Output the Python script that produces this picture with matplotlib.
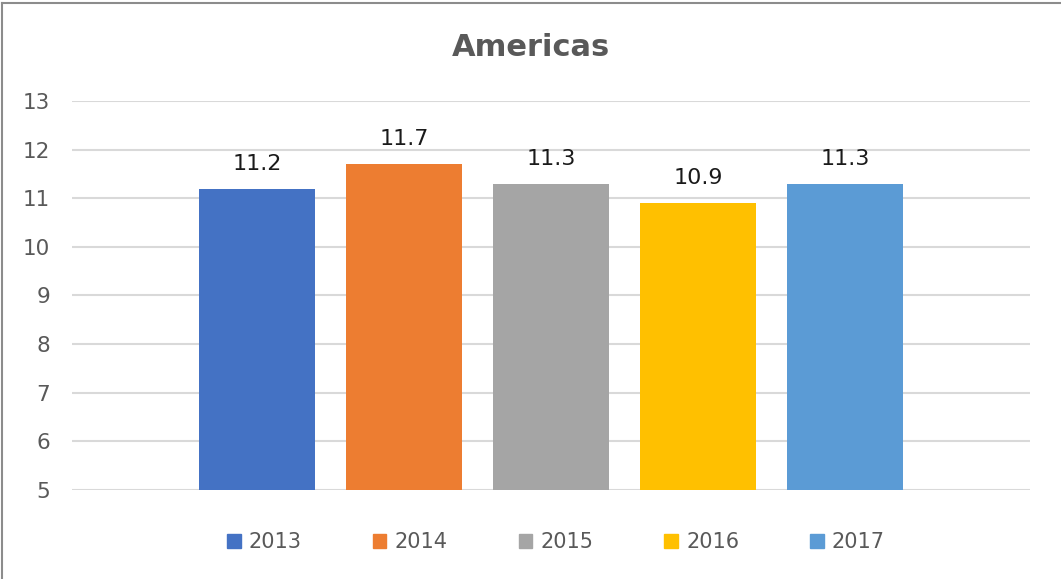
import matplotlib.pyplot as plt
import matplotlib.patches as mpatches
import matplotlib.lines as mlines
import numpy as np

years = ['2013', '2014', '2015', '2016', '2017']
values = [11.2, 11.7, 11.3, 10.9, 11.3]
colors = ['#4472C4', '#ED7D31', '#A5A5A5', '#FFC000', '#5B9BD5']

plt.rcParams['font.family'] = ['DejaVu Sans']

fig = plt.figure(figsize=(10.61, 5.79), dpi=100)
ax = fig.add_axes([0.068, 0.1537, 0.9028, 0.6719])

x = np.arange(len(years))
bars = ax.bar(x, values, width=0.79, color=colors, zorder=3)
for xi, v in zip(x, values):
    ax.text(xi, v + 0.39, f'{v}', ha='center', va='baseline', fontsize=16, color='#1a1a1a')

ax.set_ylim(5, 13)
ax.set_xlim(-1.26, 5.26)
ax.set_yticks(range(5, 14))
ax.set_xticks([])
ax.grid(axis='y', color='#d9d9d9', linewidth=1.5, zorder=0)
for s in ax.spines.values():
    s.set_visible(False)
ax.tick_params(axis='y', length=0, labelsize=15.5, labelcolor='#595959', pad=16)

fig.text(0.5, 1 - 47 / 579, 'Americas', ha='center', va='center',
         fontsize=22, fontweight='bold', color='#595959')

handles = [mpatches.Patch(color=c, label=y) for c, y in zip(colors, years)]
fig.legend(handles=handles, loc='center', bbox_to_anchor=(556 / 1061, 1 - 542 / 579),
           ncol=5, frameon=False, fontsize=15, handlelength=0.65, handleheight=0.65,
           handletextpad=0.4, columnspacing=3.4, labelcolor='#595959')

# border only on top and left, like the screenshot
fig.add_artist(mlines.Line2D([0.002, 1.0], [0.995, 0.995], color='#8c8c8c', linewidth=1.5))
fig.add_artist(mlines.Line2D([0.002, 0.002], [0.0, 0.995], color='#8c8c8c', linewidth=1.5))

fig.savefig('out.png', dpi=100)
